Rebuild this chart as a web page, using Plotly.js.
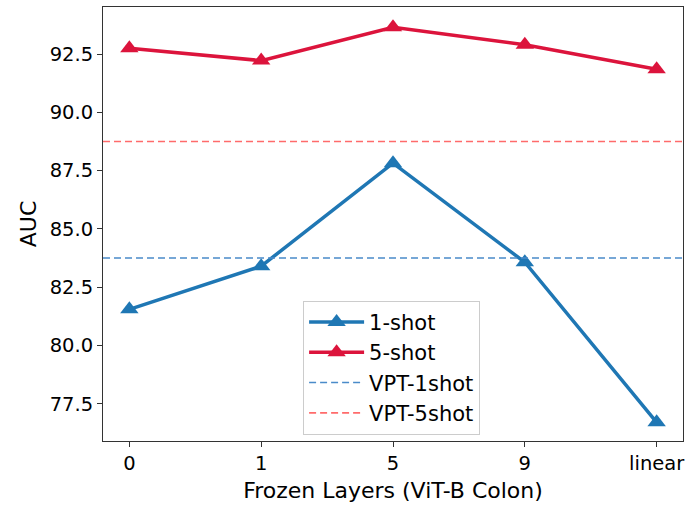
<!DOCTYPE html>
<html>
<head>
<meta charset="utf-8">
<script src="https://cdn.plot.ly/plotly-3.0.1.min.js"></script>
<style>html,body{margin:0;padding:0;background:#fff;}#chart{width:687px;height:506px;}</style>
</head>
<body>
<div id="chart"></div>
<script>
const categories = ["0", "1", "5", "9", "linear"];
const oneShot = [81.55, 83.4, 87.82, 83.57, 76.7];
const fiveShot = [92.75, 92.22, 93.65, 92.9, 91.85];
const vpt1shot = 83.75;
const vpt5shot = 88.75;
const yTicks = [77.5, 80.0, 82.5, 85.0, 87.5, 90.0, 92.5];

const font = "DejaVu Sans, Arial, sans-serif";
const idx = categories.map((c, i) => i);

const traces = [
  {
    x: idx, y: oneShot, name: "1-shot", type: "scatter", mode: "lines+markers",
    line: {color: "#1f77b4", width: 3.5},
    marker: {symbol: "triangle-up", size: 16, color: "#1f77b4"}
  },
  {
    x: idx, y: fiveShot, name: "5-shot", type: "scatter", mode: "lines+markers",
    line: {color: "#dc143c", width: 3.5},
    marker: {symbol: "triangle-up", size: 16, color: "#dc143c"}
  },
  {
    x: [-0.2, 4.2], y: [vpt1shot, vpt1shot], name: "VPT-1shot", type: "scatter", mode: "lines",
    line: {color: "#4a8bc9", width: 1.6, dash: "7px,4px"}
  },
  {
    x: [-0.2, 4.2], y: [vpt5shot, vpt5shot], name: "VPT-5shot", type: "scatter", mode: "lines",
    line: {color: "#ff6b6b", width: 1.6, dash: "7px,4px"}
  }
];

const layout = {
  width: 687, height: 506,
  margin: {l: 103, r: 4, t: 7, b: 65},
  paper_bgcolor: "#fff", plot_bgcolor: "#fff",
  font: {family: font, size: 20, color: "#000"},
  showlegend: true,
  hovermode: false,
  xaxis: {
    range: [-0.2, 4.2],
    tickmode: "array", tickvals: idx, ticktext: categories,
    showgrid: false, zeroline: false,
    showline: true, linecolor: "#333", linewidth: 1, mirror: true,
    ticks: "outside", ticklen: 5, tickcolor: "#333",
    tickfont: {family: font, size: 19.5, color: "#000"},
    title: {text: "Frozen Layers (ViT-B Colon)", font: {family: font, size: 22, color: "#000"}, standoff: 8}
  },
  yaxis: {
    range: [75.9, 94.52],
    tickmode: "array", tickvals: yTicks, ticktext: yTicks.map(v => v.toFixed(1)),
    showgrid: false, zeroline: false,
    showline: true, linecolor: "#333", linewidth: 1, mirror: true,
    ticks: "outside", ticklen: 5, tickcolor: "#333",
    tickfont: {family: font, size: 19.5, color: "#000"},
    title: {text: "AUC", font: {family: font, size: 22, color: "#000"}, standoff: 6}
  },
  legend: {
    x: 0.345, y: 0.323, xanchor: "left", yanchor: "top",
    bgcolor: "rgba(255,255,255,0.85)", bordercolor: "#cccccc", borderwidth: 1,
    font: {family: font, size: 21, color: "#000"},
    itemwidth: 55,
    tracegroupgap: 0
  }
};

Plotly.newPlot("chart", traces, layout, {staticPlot: true, displayModeBar: false});
</script>
</body>
</html>
